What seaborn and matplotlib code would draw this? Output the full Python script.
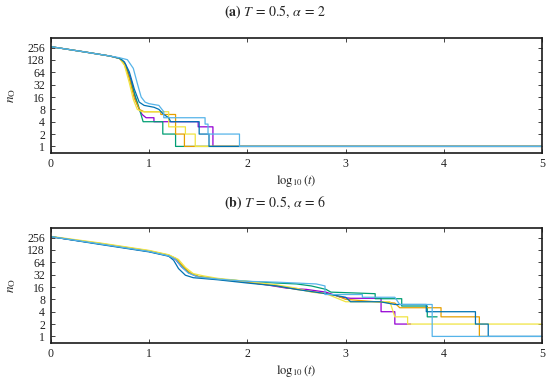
import numpy as np
import pandas as pd
import matplotlib
matplotlib.use("Agg")
import matplotlib.pyplot as plt
import seaborn as sns

# ---------------- data ----------------
runs = ["purple", "green", "orange", "yellow", "darkblue", "lightblue"]
colors = {"purple": "#9400d3", "green": "#009e73", "lightblue": "#56b4e9",
          "orange": "#e69f00", "yellow": "#f0e442", "darkblue": "#0072b2"}

yticks = [1, 2, 4, 8, 16, 32, 64, 128, 256]
xticks = [0, 1, 2, 3, 4, 5]

# panel (a): T = 0.5, alpha = 2   (x = log10 t, n = n_O)
a_purple_x = [0, 0.35, 0.6, 0.7, 0.76, 0.82, 0.86, 0.9, 0.93, 0.97, 1.05, 1.05, 1.5, 1.5, 1.65, 1.65, 5]
a_purple_n = [270, 200, 160, 140, 100, 40, 15, 8, 6, 5, 5, 4, 4, 3, 3, 1, 1]
a_green_x = [0, 0.35, 0.6, 0.7, 0.73, 0.78, 0.83, 0.88, 0.91, 0.94, 1.14, 1.14, 1.27, 1.27, 5]
a_green_n = [270, 200, 160, 140, 125, 70, 28, 12, 7, 4, 4, 2, 2, 1, 1]
a_orange_x = [0, 0.35, 0.6, 0.7, 0.75, 0.8, 0.85, 0.9, 0.95, 1.12, 1.12, 1.27, 1.27, 1.36, 1.36, 5]
a_orange_n = [270, 200, 160, 140, 100, 45, 15, 8, 7, 7, 6, 6, 2, 2, 1, 1]
a_yellow_x = [0, 0.35, 0.6, 0.7, 0.75, 0.8, 0.84, 0.88, 0.93, 1.2, 1.2, 1.37, 1.37, 1.47, 1.47, 5]
a_yellow_n = [270, 200, 160, 140, 95, 35, 14, 8, 7, 7, 3, 3, 2, 2, 1, 1]
a_darkblue_x = [0, 0.35, 0.6, 0.7, 0.75, 0.8, 0.85, 0.9, 0.95, 1.05, 1.1, 1.15, 1.2, 1.22, 1.51, 1.51, 1.61, 1.61, 5]
a_darkblue_n = [270, 200, 160, 140, 115, 65, 25, 12, 10, 9, 8, 6, 5, 4, 4, 2, 2, 1, 1]
a_lightblue_x = [0, 0.35, 0.6, 0.7, 0.78, 0.84, 0.88, 0.92, 0.96, 1.0, 1.1, 1.15, 1.15, 1.57, 1.57, 1.6, 1.6, 1.92, 1.92, 5]
a_lightblue_n = [270, 200, 160, 145, 130, 80, 35, 16, 12, 11, 10, 7, 5, 5, 3.5, 3.5, 2, 2, 1, 1]

# panel (b): T = 0.5, alpha = 6
b_purple_x = [0, 0.5, 1.0, 1.2, 1.27, 1.33, 1.4, 1.5, 1.7, 2.0, 2.2, 2.4, 2.6, 2.8, 2.95, 3.05, 3.36, 3.36, 3.5, 3.5, 3.66]
b_purple_n = [270, 180, 118, 92, 75, 50, 36, 28, 25, 21, 18, 15, 14, 12, 9, 8.5, 8.5, 4, 4, 2, 2]
b_green_x = [0, 0.5, 1.0, 1.2, 1.27, 1.33, 1.4, 1.5, 1.7, 2.0, 2.3, 2.5, 2.65, 2.8, 2.85, 3.3, 3.3, 3.57, 3.57, 3.83, 3.83, 3.93]
b_green_n = [270, 180, 118, 93, 78, 52, 36, 29, 25, 22, 20, 19, 17, 14, 12, 11, 8.3, 8.3, 5.5, 5.5, 3, 3]
b_orange_x = [0, 0.5, 1.0, 1.2, 1.28, 1.35, 1.42, 1.5, 1.7, 2.0, 2.3, 2.5, 2.7, 2.9, 3.0, 3.3, 3.5, 3.55, 3.97, 3.97, 4.36, 4.36, 4.45]
b_orange_n = [270, 185, 122, 96, 78, 50, 35, 29, 25, 21, 17, 14, 12, 10, 8, 7, 6.5, 5, 5, 3, 3, 1, 1]
b_yellow_x = [0, 0.5, 1.0, 1.2, 1.3, 1.37, 1.45, 1.55, 1.7, 2.0, 2.3, 2.5, 2.65, 2.8, 3.0, 3.45, 3.5, 3.63, 3.63, 5]
b_yellow_n = [275, 190, 125, 98, 75, 48, 34, 30, 26, 22, 18, 15, 12, 11, 7, 7, 3, 3, 2, 2]
b_darkblue_x = [0, 0.5, 1.0, 1.2, 1.25, 1.3, 1.37, 1.45, 1.7, 2.0, 2.3, 2.5, 2.8, 3.0, 3.05, 3.35, 3.5, 3.82, 3.82, 4.32, 4.32, 4.45, 4.45, 5]
b_darkblue_n = [270, 175, 115, 90, 72, 45, 31, 27, 24, 20, 17, 14, 11, 9, 7, 7, 6, 6, 4, 4, 2, 2, 1, 1]
b_lightblue_x = [0, 0.5, 1.0, 1.2, 1.27, 1.33, 1.4, 1.5, 1.7, 2.0, 2.3, 2.5, 2.7, 2.79, 2.79, 3.17, 3.17, 3.5, 3.55, 3.88, 3.88, 5]
b_lightblue_n = [270, 180, 118, 92, 76, 50, 35, 28, 25, 22, 21, 20, 19, 17, 10.5, 10.5, 9, 9, 6, 6, 1, 1]


def frame(prefix):
    g = globals()
    parts = []
    for r in runs:
        xs = g[f"{prefix}_{r}_x"]
        ns = g[f"{prefix}_{r}_n"]
        parts.append(pd.DataFrame({"x": xs, "n": ns, "run": r}))
    return pd.concat(parts, ignore_index=True)


# ---------------- style ----------------
sns.set_style("ticks")
plt.rcParams["font.family"] = ["Liberation Serif", "DejaVu Serif"]
plt.rcParams["mathtext.fontset"] = "stix"
plt.rcParams["axes.linewidth"] = 1.2

fig = plt.figure(figsize=(5.5, 3.8), dpi=100)
ax_a = fig.add_axes([0.0922, 0.598, 0.8938, 0.301])
ax_b = fig.add_axes([0.0922, 0.098, 0.8938, 0.301])

for ax, prefix, title, ty in [(ax_a, "a", r"$\mathbf{(a)}$ $T\,=\,0.5,\,\alpha\,=\,2$", 1 - 11.5 / 380),
                              (ax_b, "b", r"$\mathbf{(b)}$ $T\,=\,0.5,\,\alpha\,=\,6$", 1 - 203 / 380)]:
    df = frame(prefix)
    sns.lineplot(data=df, x="x", y="n", hue="run", palette=colors, hue_order=runs,
                 units="run", estimator=None, sort=False, legend=False,
                 linewidth=0.9, ax=ax)
    ax.set_yscale("log", base=2)
    ax.set_ylim(0.7, 430)
    ax.set_xlim(0, 5)
    ax.set_yticks(yticks)
    ax.set_yticklabels([str(v) for v in yticks])
    ax.yaxis.set_minor_locator(matplotlib.ticker.NullLocator())
    ax.set_xticks(xticks)
    ax.set_xticklabels([str(v) for v in xticks])
    ax.tick_params(direction="in", top=True, right=True, length=3, width=0.6,
                   labelsize=8.5, pad=4, colors="#222222")
    ax.set_xlabel(r"$\log_{10}(t)$", fontsize=9, labelpad=2)
    ax.set_ylabel(r"$n_{\mathrm{O}}$", fontsize=9.5, labelpad=7)
    for s in ax.spines.values():
        s.set_visible(True)
        s.set_color("#1a1a1a")
    fig.text(0.5, ty, title, ha="center", va="center", fontsize=10)

fig.savefig("out.png", dpi=100)
